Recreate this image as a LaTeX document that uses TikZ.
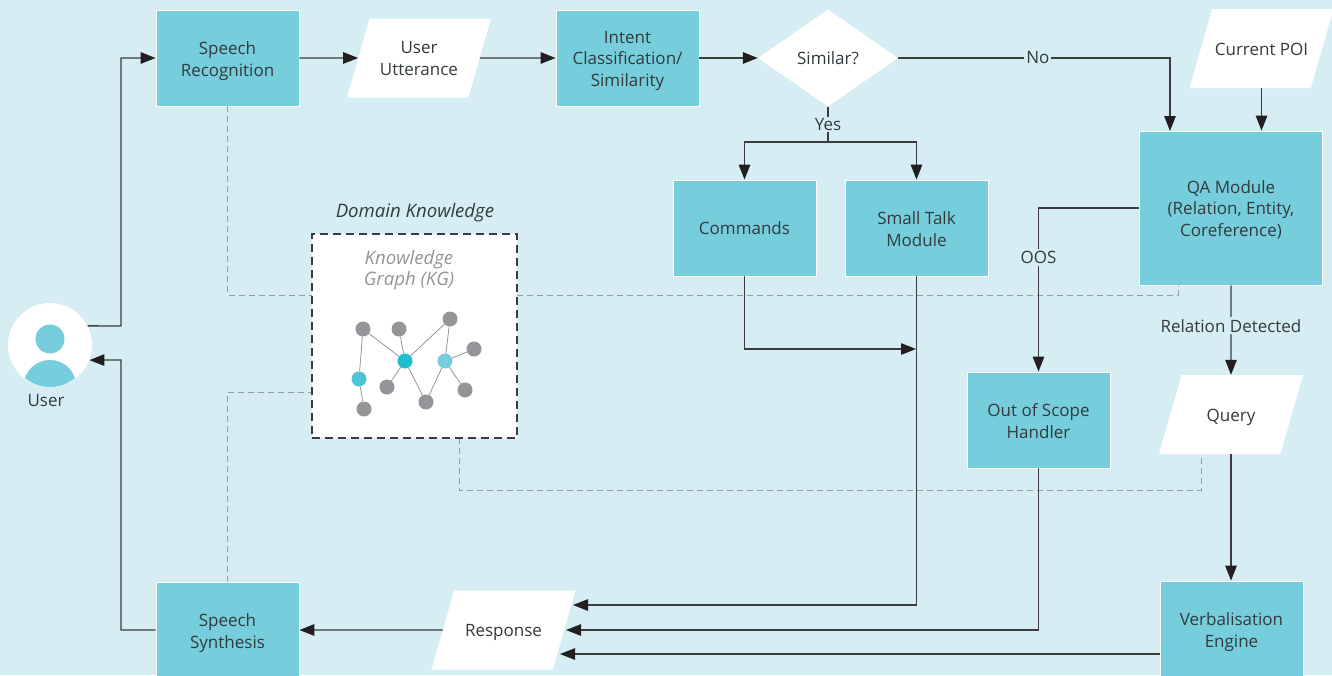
\documentclass[tikz,border=0pt]{standalone}
\usepackage{fontspec}
\setmainfont{Open Sans}
\usepackage{xcolor}
\usetikzlibrary{arrows.meta, shapes.geometric}

\definecolor{pagebg}{HTML}{D6EEF3}
\definecolor{boxteal}{HTML}{76CDDB}
\definecolor{inkdark}{HTML}{333A3D}
\definecolor{linedark}{HTML}{3C3C3E}
\definecolor{tipdark}{HTML}{231F20}
\definecolor{dashgray}{HTML}{9A9DA0}
\definecolor{kggray}{HTML}{939598}
\definecolor{kgteal}{HTML}{1DBFCC}
\definecolor{kgcyan}{HTML}{50C4D4}

\tikzset{
  every node/.style={font=\fontsize{17}{21.2}\selectfont, text=inkdark, align=center},
  module/.style={draw=white, line width=0.8pt, fill=boxteal, minimum width=143pt, minimum height=96pt, inner sep=0pt},
  dataio/.style={trapezium, trapezium stretches body=true, trapezium left angle=74, trapezium right angle=106,
    fill=white, minimum width=144pt, inner sep=0pt, text height=46pt, text depth=33pt},
  twolines/.style={text height=36pt, text depth=0pt},
  threelines/.style={text height=56pt, text depth=0pt},
  iotwolines/.style={text height=56.5pt, text depth=22.5pt},
  flow/.style={draw=linedark, line width=1.3pt, -{Triangle[length=15pt,width=11.5pt,color=tipdark]}},
  plainflow/.style={draw=linedark, line width=1.3pt},
  weblink/.style={draw=dashgray, line width=1pt, dash pattern=on 6pt off 4pt},
  lbl/.style={fill=pagebg, inner sep=2pt},
  kgdot/.style={circle, fill=kggray, minimum size=15pt, inner sep=0pt},
  kgedge/.style={draw=kggray, line width=0.8pt}
}

\begin{document}
\begin{tikzpicture}[x=1pt, y=-1pt]
    % page background
    \fill [pagebg] (0,0) rectangle (1332,675);
    \useasboundingbox (0,0) rectangle (1332,675);

    % draw the user
    \node [circle, fill=white, minimum size=84pt, inner sep=0pt] (user) at (50,345) {};
    \fill [boxteal] (50,339) circle [radius=14.5];
    \begin{scope}
      \clip (50,348) circle [radius=39];
      \fill [boxteal] (50,386.4) circle [radius=26.4];
    \end{scope}
    \node (userlabel) at (46,401) {User};

    % draw the top row
    \node [module, twolines] (speechrec) at (227.5,58) {Speech\\Recognition};
    \node [dataio, iotwolines] (utterance) at (419,58) {User\\Utterance};
    \node [module, threelines] (intent) at (627.5,58) {Intent\\Classification/\\Similarity};
    \node [diamond, fill=white, minimum width=140pt, minimum height=97pt, aspect=1.44, inner sep=0pt] (similar) at (828,58) {Similar?};
    \node [dataio] (poi) at (1261.5,48.5) {Current POI};

    % draw the middle modules
    \node [module, threelines, minimum width=183pt, minimum height=154pt] (qa) at (1231,208) {QA Module\\(Relation, Entity,\\Coreference)};
    \node [module] (commands) at (744.5,228) {Commands};
    \node [module, twolines] (smalltalk) at (916.5,228) {Small Talk\\Module};
    \node [module, twolines] (oos) at (1038.5,420) {Out of Scope\\Handler};
    \node [dataio] (query) at (1231,414.5) {Query};

    % draw the bottom row
    \node [module, twolines] (verbal) at (1231.5,629) {Verbalisation\\Engine};
    \node [module, twolines] (synth) at (227.5,630) {Speech\\Synthesis};
    \node [dataio] (response) at (503.5,630) {Response};

    % draw the free ends and bends of the connectors
    \coordinate (userup) at (121,326);
    \coordinate (userdown) at (121,360);
    \coordinate (qatop) at (1170,131);
    \coordinate (yessplit) at (828,142);
    \coordinate (cmdmerge) at (916,349);
    \coordinate (talkin) at (573,605);
    \coordinate (oosin) at (566,630);
    \coordinate (verbin) at (560,654);
    \coordinate (qadash) at (1178,285);
    \coordinate (querydash) at (1201,454);
    \coordinate (kgleft) at (312,295);
    \coordinate (kgright) at (517,295);
    \coordinate (kgsynth) at (312,392);
    \coordinate (kgbottom) at (459,438);
    \coordinate (dashlow) at (459,490);

    % draw the dashed links to the domain knowledge
    \draw [weblink] (speechrec.south) |- (kgleft);
    \draw [weblink] (kgright) -| (qadash);
    \draw [weblink] (synth.north) |- (kgsynth);
    \draw [weblink] (kgbottom) -- (dashlow) -| (querydash);

    % draw the domain knowledge box
    \node [draw=linedark, fill=white, line width=1.2pt, dash pattern=on 8pt off 5pt, minimum width=205pt, minimum height=204pt] (kgbox) at (414.5,336) {};
    \node [font=\fontsize{18.6}{21.2}\selectfont] (domain) at (415,213) {\itshape Domain Knowledge};
    \node [font=\fontsize{18.6}{21.2}\selectfont, text=kggray] (kgtitle) at (409,270.5) {\itshape Knowledge\\\itshape Graph (KG)};

    % draw the knowledge graph
    \node [kgdot] (g1) at (363,329) {};
    \node [kgdot] (g2) at (399,329) {};
    \node [kgdot] (g3) at (450,319) {};
    \node [kgdot] (g4) at (474,349) {};
    \node [kgdot] (g5) at (465,390) {};
    \node [kgdot] (g6) at (426,402) {};
    \node [kgdot] (g7) at (387,387) {};
    \node [kgdot] (g8) at (364,409) {};
    \node [kgdot, fill=kgteal] (hub) at (405,361) {};
    \node [kgdot, fill=boxteal] (hubright) at (445,361) {};
    \node [kgdot, fill=kgcyan] (hubleft) at (359,379) {};
    \draw [kgedge] (g1) -- (hubleft);
    \draw [kgedge] (hubleft) -- (g8);
    \draw [kgedge] (g1) -- (hub);
    \draw [kgedge] (g2) -- (hub);
    \draw [kgedge] (g3) -- (hub);
    \draw [kgedge] (g3) -- (hubright);
    \draw [kgedge] (hubright) -- (g4);
    \draw [kgedge] (hubright) -- (g5);
    \draw [kgedge] (hubright) -- (g6);
    \draw [kgedge] (hub) -- (g6);
    \draw [kgedge] (hub) -- (g7);

    % draw the main flow
    \draw [flow] (user.27) -- (userup) |- (speechrec.west);
    \draw [flow] (speechrec.east) -- (utterance.west);
    \draw [flow] (utterance.east) -- (intent.west);
    \draw [flow] (intent.east) -- (similar.west);
    \draw [flow] (similar.east) -| node [lbl, pos=0.257] {No} (qatop);
    \draw [flow] (poi.south) -- (poi.south |- qa.north);

    % draw the yes branch
    \draw [plainflow] (similar.south) -- node [lbl, inner sep=1pt] {Yes} (yessplit);
    \draw [flow] (yessplit) -| (commands.north);
    \draw [flow] (yessplit) -| (smalltalk.north);
    \draw [flow] (commands.south) |- (cmdmerge);
    \draw [flow] (smalltalk.south) |- (talkin);

    % draw the qa branches
    \draw [flow] (qa.west) -| node [lbl, pos=0.652] {OOS} (oos.north);
    \draw [flow] (qa.south) -- node [lbl, pos=0.45] {Relation Detected} (query.north);
    \draw [flow] (query.south) -- (verbal.north -| query.south);

    % draw the way back to the user
    \draw [flow] (oos.south) |- (oosin);
    \draw [flow] (verbal.west |- verbin) -- (verbin);
    \draw [flow] (response.west) -- (synth.east);
    \draw [flow] (synth.west) -| (userdown) -- (user.-21);

\end{tikzpicture}
\end{document}
